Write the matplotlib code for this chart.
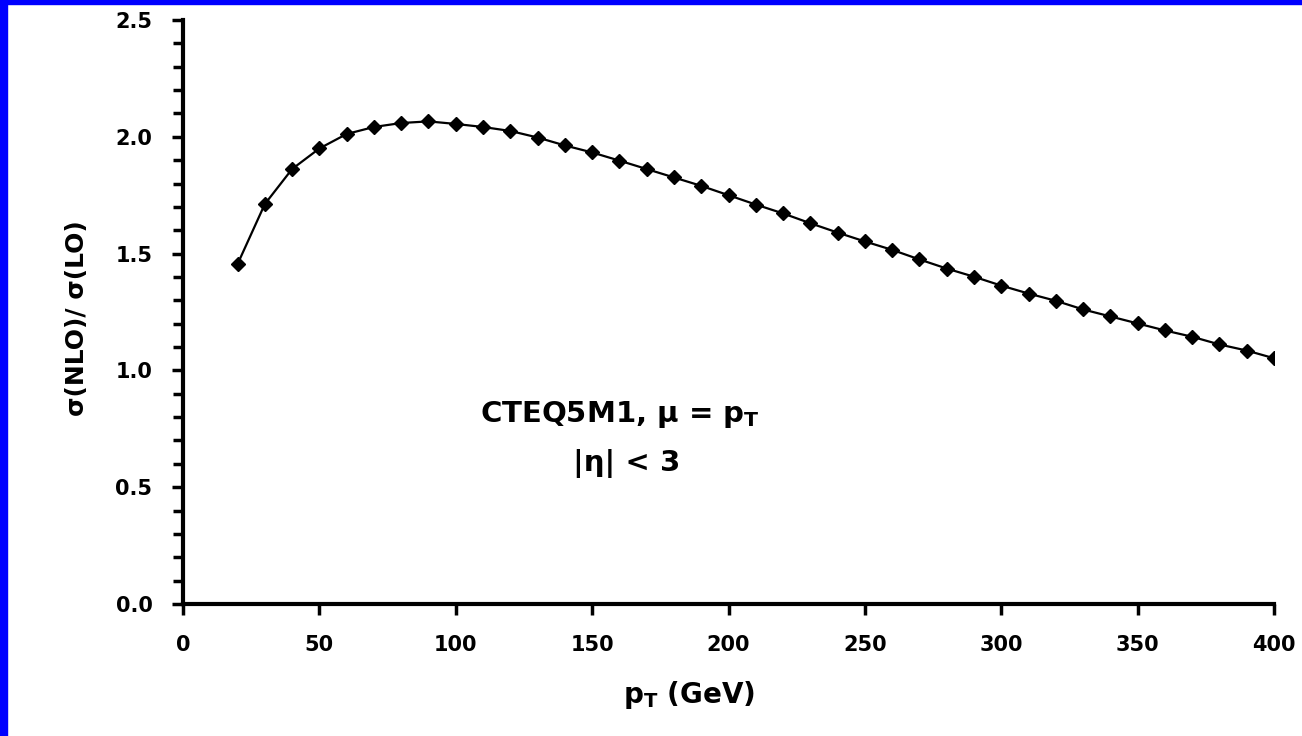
import matplotlib
matplotlib.use("Agg")
import matplotlib.pyplot as plt
from matplotlib.patches import Rectangle
from matplotlib.ticker import MultipleLocator, FormatStrFormatter

pt = [20, 30, 40, 50, 60, 70, 80, 90, 100, 110, 120, 130, 140, 150, 160, 170, 180, 190, 200,
      210, 220, 230, 240, 250, 260, 270, 280, 290, 300, 310, 320, 330, 340, 350, 360, 370, 380, 390, 400]
ratio = [1.455, 1.712, 1.862, 1.950, 2.012, 2.042, 2.059, 2.066, 2.055, 2.042, 2.025, 1.997, 1.963,
         1.933, 1.898, 1.862, 1.826, 1.790, 1.750, 1.710, 1.672, 1.630, 1.590, 1.552, 1.516, 1.475,
         1.436, 1.401, 1.363, 1.329, 1.298, 1.261, 1.231, 1.201, 1.171, 1.144, 1.111, 1.085, 1.052]

plt.rcParams['font.family'] = ['DejaVu Sans']
plt.rcParams['font.weight'] = 'bold'
plt.rcParams['mathtext.fontset'] = 'dejavusans'
plt.rcParams['mathtext.default'] = 'bf'

fig = plt.figure(figsize=(13.02, 7.36), dpi=100)
fig.patch.set_facecolor('white')
fig.patches.append(Rectangle((0, 0), 7/1302, 1, transform=fig.transFigure, color='#0000ff', zorder=10))
fig.patches.append(Rectangle((0, 1 - 4/736), 1, 4/736, transform=fig.transFigure, color='#0000ff', zorder=10))

ax = fig.add_axes([183/1302, 1 - 604/736, (1274 - 183)/1302, (604 - 20)/736])
ax.plot(pt, ratio, color='black', lw=1.6, marker='D', ms=7, mfc='black', mec='black')

ax.set_xlim(0, 400)
ax.set_ylim(0, 2.5)
ax.xaxis.set_major_locator(MultipleLocator(50))
ax.yaxis.set_major_locator(MultipleLocator(0.5))
ax.yaxis.set_minor_locator(MultipleLocator(0.1))
ax.yaxis.set_major_formatter(FormatStrFormatter('%.1f'))

for s in ['top', 'right']:
    ax.spines[s].set_visible(False)
for s in ['left', 'bottom']:
    ax.spines[s].set_linewidth(3)

ax.tick_params(axis='both', which='major', direction='out', length=8, width=2.5, labelsize=15)
ax.tick_params(axis='y', which='major', pad=14)
ax.tick_params(axis='x', which='major', pad=14)
ax.tick_params(axis='y', which='minor', direction='out', length=7, width=2.5)
for lab in ax.get_xticklabels() + ax.get_yticklabels():
    lab.set_fontweight('bold')

ax.set_xlabel(r'p$_\mathbf{T}$ (GeV)', fontsize=20, fontweight='bold')
ax.xaxis.set_label_coords((689 - 183) / 1091, -(695 - 604) / 584, transform=ax.transAxes)
ax.xaxis.label.set_va('center')
ax.set_ylabel('σ(NLO)/ σ(LO)', fontsize=18, fontweight='bold')
ax.yaxis.set_label_coords(-(183 - 77) / 1091, (604 - 318) / 584, transform=ax.transAxes)
ax.yaxis.label.set_va('center')

ax.text(0.40, 0.325, r'CTEQ5M1, μ = p$_\mathbf{T}$', transform=ax.transAxes, ha='center', va='center',
        fontsize=21, fontweight='bold')
ax.text(0.407, 0.24, '|η| < 3', transform=ax.transAxes, ha='center', va='center',
        fontsize=21, fontweight='bold')

fig.savefig('out.png', dpi=100, facecolor='white')
